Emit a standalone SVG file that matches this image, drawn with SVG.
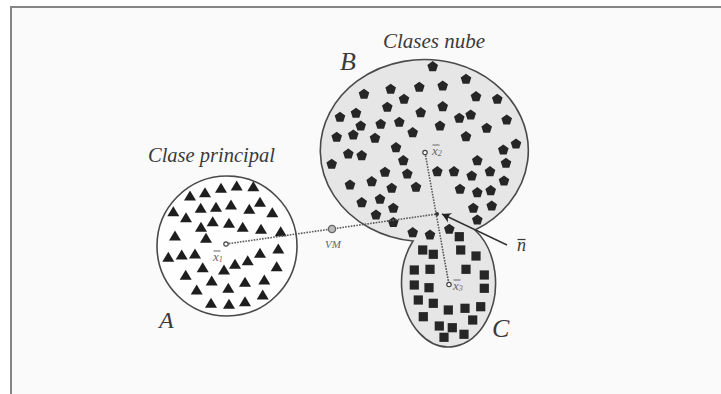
<svg xmlns="http://www.w3.org/2000/svg" xmlns:xlink="http://www.w3.org/1999/xlink" width="721" height="394" viewBox="0 0 721 394">
<style>
.lbl{font-family:"Liberation Serif","Times New Roman",serif;font-style:italic;fill:#3a3a3a}
.sm{font-family:"Liberation Serif","Times New Roman",serif;font-style:italic;fill:#666}
.outline{stroke:#4a4a4a;stroke-width:1.6}
.dot{fill:none;stroke:#5a5a5a;stroke-width:1.6;stroke-dasharray:1.6 1.2}
.bar{stroke:#666;stroke-width:1}
</style>
<defs>
<path id="tri" d="M0,-5.5 L6,4.5 L-6,4.5 Z" fill="#1e1e1e"/>
<path id="pen" d="M0,-5.6 L5.3,-1.7 L3.3,4.5 L-3.3,4.5 L-5.3,-1.7 Z" fill="#262626"/>
<rect id="sq" x="-4.6" y="-4.6" width="9.2" height="9.2" fill="#262626"/>
<marker id="ah" viewBox="-10 -6 12 12" refX="0" refY="0" markerWidth="12" markerHeight="12" markerUnits="userSpaceOnUse" orient="auto">
<path d="M0,0 L-9,-5 Q-5,0 -9,5 Z" fill="#222"/>
</marker>
</defs>
<rect width="721" height="394" fill="#ffffff"/>
<rect x="11" y="7" width="710" height="387" fill="#fafafa"/>
<path d="M11,394 L11,7 L721,7" fill="none" stroke="#858585" stroke-width="2"/>

<g id="A">
<circle cx="227" cy="246" r="70" fill="#fefefe" class="outline"/>
<g>
<use href="#tri" x="190" y="196"/><use href="#tri" x="205" y="192.7"/><use href="#tri" x="221" y="188.3"/><use href="#tri" x="236.7" y="186"/><use href="#tri" x="253.3" y="186.7"/>
<use href="#tri" x="173.3" y="211.7"/><use href="#tri" x="186" y="217.7"/><use href="#tri" x="200.7" y="208.3"/><use href="#tri" x="216" y="207.3"/><use href="#tri" x="231" y="205"/>
<use href="#tri" x="249.3" y="209.3"/><use href="#tri" x="260" y="202.3"/><use href="#tri" x="272.3" y="212.7"/><use href="#tri" x="201" y="227.3"/><use href="#tri" x="212.7" y="221.7"/>
<use href="#tri" x="229" y="223.3"/><use href="#tri" x="242.7" y="227.3"/><use href="#tri" x="261" y="229.3"/><use href="#tri" x="280.7" y="231.7"/><use href="#tri" x="175" y="236"/>
<use href="#tri" x="206" y="238.3"/><use href="#tri" x="278.3" y="249"/><use href="#tri" x="260" y="253.3"/><use href="#tri" x="168.3" y="257.3"/><use href="#tri" x="181.7" y="255"/>
<use href="#tri" x="195" y="254"/><use href="#tri" x="247.7" y="260.7"/><use href="#tri" x="235" y="264.3"/><use href="#tri" x="276.7" y="266.7"/><use href="#tri" x="202.7" y="267.7"/>
<use href="#tri" x="224" y="270"/><use href="#tri" x="185.7" y="275.3"/><use href="#tri" x="211.7" y="281"/><use href="#tri" x="245" y="282.3"/><use href="#tri" x="264.3" y="280"/>
<use href="#tri" x="196.7" y="290"/><use href="#tri" x="228.3" y="288.3"/><use href="#tri" x="262.7" y="295"/><use href="#tri" x="211" y="303.3"/><use href="#tri" x="229" y="304.3"/>
<use href="#tri" x="245" y="301.7"/>
</g>
<text class="lbl" x="148" y="162" font-size="20.5">Clase principal</text>
<text class="lbl" x="159" y="328" font-size="24">A</text>
</g>

<g id="BC">
<path d="M475,230 A104 91 0 1 0 413,241 A47 64 0 1 0 475,230 Z" fill="#e6e6e6" class="outline"/>
<g>
<use href="#pen" x="432.7" y="66.7"/><use href="#pen" x="466" y="79.3"/><use href="#pen" x="364" y="94.3"/><use href="#pen" x="390.7" y="89.3"/><use href="#pen" x="419.3" y="87.3"/>
<use href="#pen" x="442.7" y="86"/><use href="#pen" x="404" y="99.3"/><use href="#pen" x="476" y="96.7"/><use href="#pen" x="497.3" y="99.3"/><use href="#pen" x="387.3" y="107.3"/>
<use href="#pen" x="442.7" y="106.7"/><use href="#pen" x="340" y="117.3"/><use href="#pen" x="356" y="113.3"/><use href="#pen" x="420.7" y="112.7"/><use href="#pen" x="459.3" y="118.3"/>
<use href="#pen" x="470.7" y="115"/><use href="#pen" x="506.7" y="120"/><use href="#pen" x="360.7" y="126"/><use href="#pen" x="380.7" y="124.3"/><use href="#pen" x="399.3" y="122.3"/>
<use href="#pen" x="440" y="126"/><use href="#pen" x="486.7" y="128.3"/><use href="#pen" x="336.7" y="137.3"/><use href="#pen" x="353.3" y="135"/><use href="#pen" x="375" y="138.3"/>
<use href="#pen" x="412.7" y="132.7"/><use href="#pen" x="466" y="136.7"/><use href="#pen" x="516" y="144"/><use href="#pen" x="503.3" y="150"/><use href="#pen" x="396" y="147.7"/>
<use href="#pen" x="348.3" y="154"/><use href="#pen" x="361.7" y="155.7"/><use href="#pen" x="331.7" y="164.3"/><use href="#pen" x="403.3" y="160.7"/><use href="#pen" x="477.3" y="160.7"/>
<use href="#pen" x="506" y="163.3"/><use href="#pen" x="385" y="172.3"/><use href="#pen" x="437.3" y="171.7"/><use href="#pen" x="454" y="171.7"/><use href="#pen" x="471.7" y="176"/>
<use href="#pen" x="490" y="171.7"/><use href="#pen" x="407.3" y="174"/><use href="#pen" x="504" y="181"/><use href="#pen" x="350" y="185"/><use href="#pen" x="371.7" y="181.7"/>
<use href="#pen" x="391.7" y="188.3"/><use href="#pen" x="416" y="187.3"/><use href="#pen" x="460" y="189.3"/><use href="#pen" x="477.3" y="192.7"/><use href="#pen" x="490.7" y="190.7"/>
<use href="#pen" x="361.7" y="202.7"/><use href="#pen" x="380" y="199.3"/><use href="#pen" x="393.3" y="208.3"/><use href="#pen" x="473.3" y="208.3"/><use href="#pen" x="491.7" y="206"/>
<use href="#pen" x="376" y="215"/><use href="#pen" x="477.3" y="220"/><use href="#pen" x="393.3" y="222.5"/><use href="#pen" x="412.7" y="232.7"/><use href="#pen" x="430" y="235"/>
<use href="#pen" x="449.3" y="229.3"/>
</g>
<g>
<use href="#sq" x="459.3" y="236.7"/><use href="#sq" x="422.7" y="250"/><use href="#sq" x="433.3" y="254.3"/><use href="#sq" x="460.7" y="250"/><use href="#sq" x="476" y="256"/>
<use href="#sq" x="414.3" y="270"/><use href="#sq" x="430" y="269.3"/><use href="#sq" x="466" y="269.3"/><use href="#sq" x="484.3" y="275"/><use href="#sq" x="414.3" y="285"/>
<use href="#sq" x="429" y="287.7"/><use href="#sq" x="484.3" y="288.3"/><use href="#sq" x="418.3" y="300"/><use href="#sq" x="433.3" y="303.3"/><use href="#sq" x="448.3" y="310"/>
<use href="#sq" x="465" y="308.3"/><use href="#sq" x="480.7" y="306.7"/><use href="#sq" x="423.3" y="316.7"/><use href="#sq" x="472.7" y="320"/><use href="#sq" x="439.3" y="326"/>
<use href="#sq" x="452.3" y="327.7"/><use href="#sq" x="464" y="334.3"/><use href="#sq" x="444" y="337.3"/>
</g>
<text class="lbl" x="383" y="48" font-size="21">Clases nube</text>
<text class="lbl" x="340" y="70" font-size="26">B</text>
<text class="lbl" x="492" y="337" font-size="26">C</text>
</g>

<g id="connectors">
<line class="dot" x1="226" y1="244" x2="437" y2="214"/>
<line class="dot" x1="425" y1="152.5" x2="449" y2="284.5"/>
<line x1="507" y1="245" x2="442" y2="214" stroke="#333" stroke-width="1.4" marker-end="url(#ah)"/>
</g>

<g id="points">
<circle cx="226" cy="244" r="2.2" fill="#fff" stroke="#444" stroke-width="1.2"/>
<circle cx="332" cy="229" r="3.6" fill="#bbb" stroke="#666" stroke-width="1.4"/>
<circle cx="437" cy="214" r="2" fill="#333"/>
<circle cx="425" cy="152.5" r="2.2" fill="#fff" stroke="#444" stroke-width="1.2"/>
<circle cx="449" cy="284.5" r="2.2" fill="#fff" stroke="#444" stroke-width="1.2"/>
</g>

<g id="labels">
<text class="sm" x="325" y="248" font-size="11">VM</text>
<text class="sm" x="213" y="261" font-size="13">x<tspan font-size="8" dy="1">1</tspan></text>
<line class="bar" x1="213.5" y1="251" x2="220.5" y2="251"/>
<text class="sm" x="432" y="155" font-size="13">x<tspan font-size="8" dy="1">2</tspan></text>
<line class="bar" x1="432.5" y1="145" x2="439.5" y2="145"/>
<text class="sm" x="453" y="290" font-size="13">x<tspan font-size="8" dy="1">3</tspan></text>
<line class="bar" x1="453.5" y1="280" x2="460.5" y2="280"/>
<text class="lbl" x="517" y="251" font-size="18">n</text>
<line x1="517.5" y1="239.5" x2="525.5" y2="239.5" stroke="#3a3a3a" stroke-width="1.2"/>
</g>
</svg>
